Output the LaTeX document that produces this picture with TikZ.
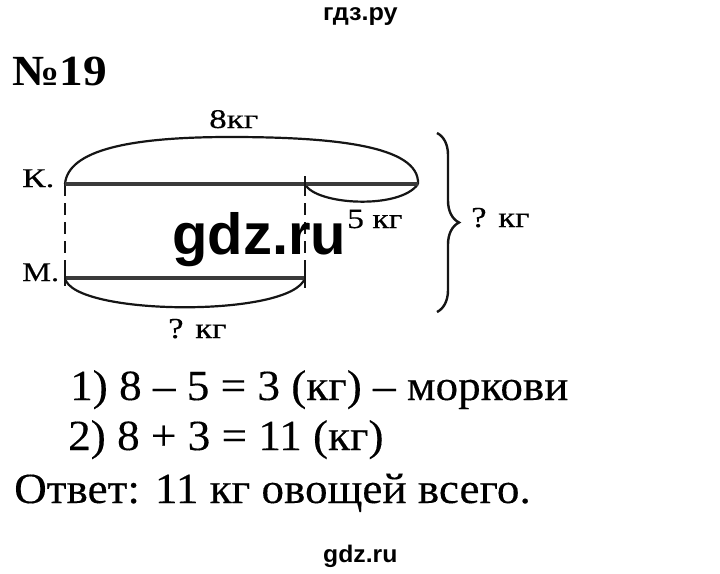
\documentclass[tikz,border=0pt]{standalone}
\usepackage{fontspec}
\setmainfont{Liberation Serif}
\newfontfamily\heavy[FakeBold=0.3]{Liberation Serif}
\newfontfamily\wmfont{Liberation Sans}
\usetikzlibrary{decorations.pathreplacing}
\definecolor{barcol}{HTML}{3A3A3A}
\definecolor{inkcol}{HTML}{151515}
\tikzset{
  txt/.style={inner sep=0pt, anchor=base west, text=black},
  lbl/.style={txt, font=\heavy\fontsize{27}{27}\selectfont},
  sol/.style={txt, font=\heavy\fontsize{43}{43}\selectfont},
  wmark/.style={txt, font=\wmfont\bfseries\fontsize{24}{24}\selectfont},
  bar/.style={line width=4.5pt, draw=barcol},
  arcline/.style={line width=2.2pt, draw=inkcol},
  dashline/.style={line width=2.2pt, draw=inkcol, dash pattern=on 12pt off 7pt},
  tickline/.style={line width=1.6pt, draw=inkcol},
  bracestyle/.style={line width=2.4pt, draw=inkcol, decorate, decoration={brace, amplitude=22pt}}
}
\begin{document}
\begin{tikzpicture}[x=1pt,y=-1pt]
\useasboundingbox[fill=white] (0,0) rectangle (720,573);

% headings
\node[wmark] (wmtop) at (323,20) {\scalebox{1.05}[1]{гдз.ру}};
\node[txt, font=\bfseries\fontsize{43}{43}\selectfont] (title) at (12,85) {\scalebox{1.1}[1]{№19}};

% key points
\coordinate (K1) at (65,184);
\coordinate (K2) at (305,184);
\coordinate (K3) at (418,184);
\coordinate (M1) at (65,278);
\coordinate (M2) at (305,278);
\coordinate (Ktop) at (230,137);
\coordinate (Btop) at (437,133);
\coordinate (Bbot) at (437,312);

% arcs
\draw[arcline] (K1) .. controls (68,150) and (130,137) .. (Ktop)
               .. controls (330,137) and (420,145) .. (K3);
\draw[arcline] (K2) .. controls (315,205) and (400,210) .. (K3);
\draw[arcline] (M1) .. controls (72,316) and (292,318) .. (M2);

% dashed verticals
\draw[dashline] (K1) -- (M1);
\draw[dashline] (K2) -- (M2);

% bars
\draw[bar] (K1) -- (K3);
\draw[bar] (M1) -- (M2);

% ticks
\draw[tickline] ([yshift=8pt]K2) -- ([yshift=-6pt]K2);
\draw[tickline] ([yshift=10pt]M2) -- ([yshift=-10pt]M2);
\draw[tickline] ([yshift=6pt]M1) -- ([yshift=-8pt]M1);

% brace
\draw[bracestyle] (Btop) -- (Bbot);

% labels
\node[lbl] (l8) at (209,128) {\scalebox{1.3}[1]{8кг}};
\node[lbl] (lK) at (22,187) {\scalebox{1.3}[1]{К.}};
\node[lbl] (lM) at (22,281) {\scalebox{1.2}[1]{М.}};
\node[lbl, font=\heavy\fontsize{28}{28}\selectfont] (l5) at (347,228) {\scalebox{1.2}[1]{5 кг}};
\node[lbl, font=\heavy\fontsize{29}{29}\selectfont] (lq1) at (471,227) {\scalebox{1.2}[1]{? кг}};
\node[lbl, font=\heavy\fontsize{29}{29}\selectfont] (lq2) at (168,338) {\scalebox{1.2}[1]{? кг}};

% watermark over the diagram
\node[txt, font=\wmfont\bfseries\fontsize{58}{58}\selectfont] (wm) at (172,254) {gdz.ru};

% solution
\node[sol] (s1) at (70,400) {\scalebox{1.05}[1]{1) 8 – 5 = 3 (кг) – моркови}};
\node[sol] (s2) at (68,450) {\scalebox{1.05}[1]{2) 8 + 3 = 11 (кг)}};
\node[sol] (s3) at (14,503) {\scalebox{1.05}[1]{Ответ: 11 кг овощей всего.}};

\node[wmark] (wmbot) at (323,562) {\scalebox{1.03}[1]{gdz.ru}};
\end{tikzpicture}
\end{document}
